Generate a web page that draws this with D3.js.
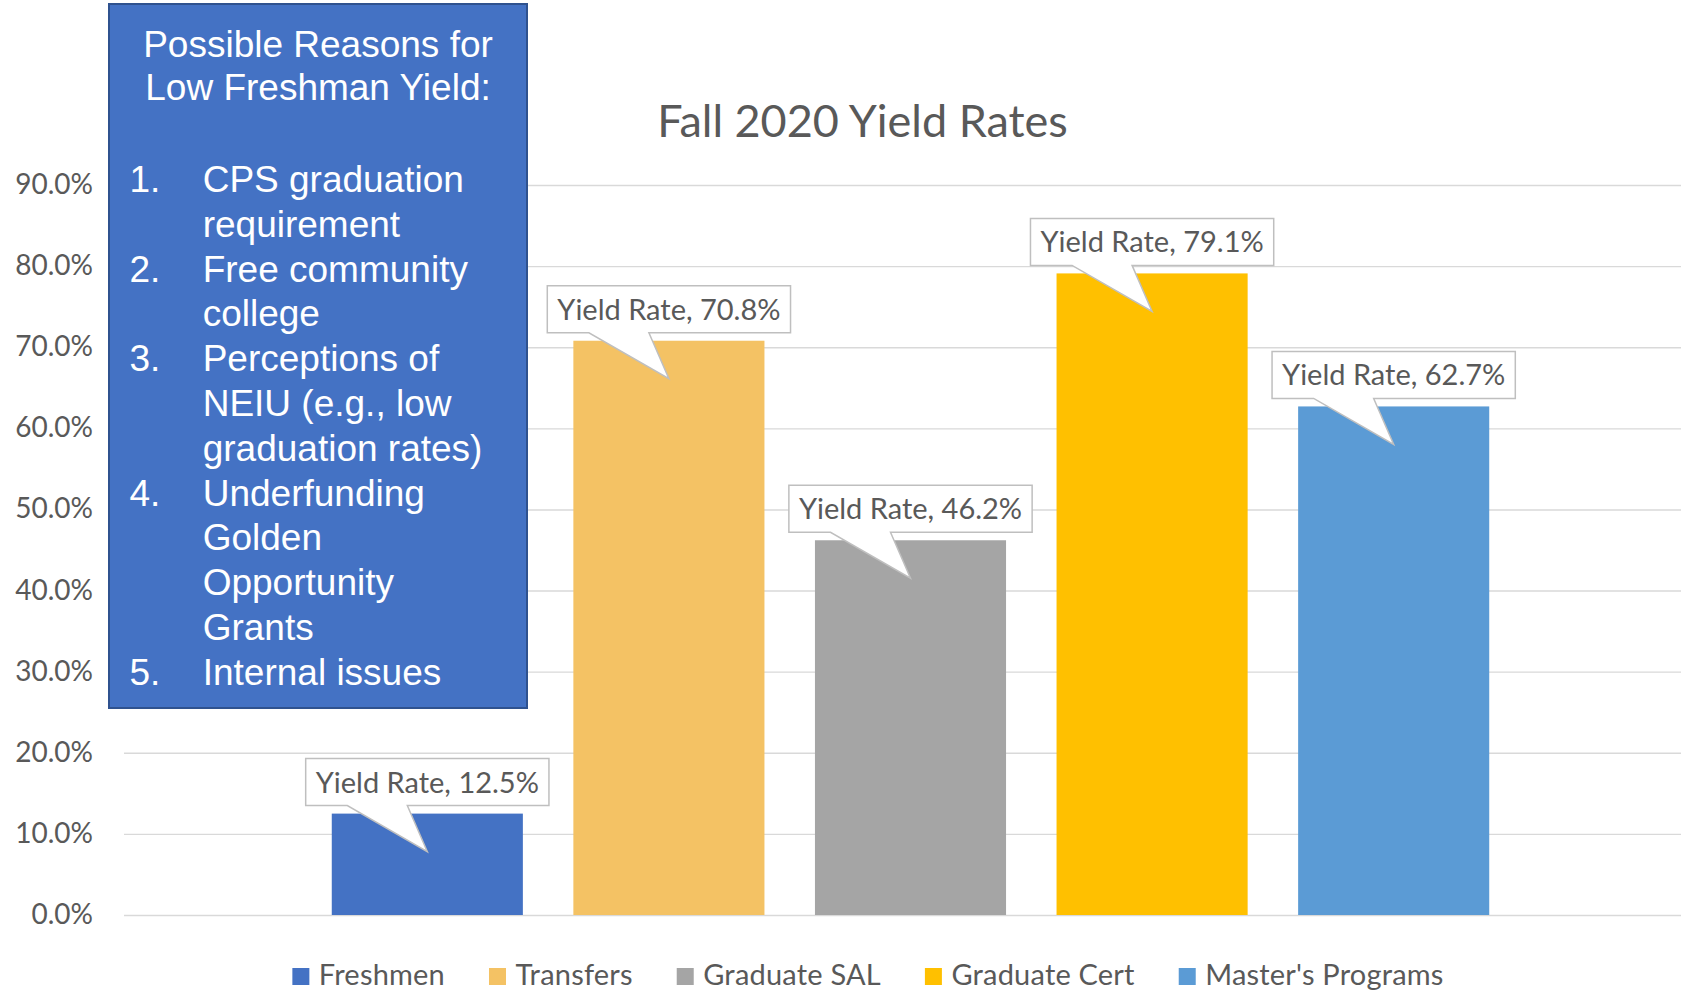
<!DOCTYPE html>
<html>
<head>
<meta charset="utf-8">
<script src="https://cdn.jsdelivr.net/npm/d3@7"></script>
<style>
  html, body { margin: 0; padding: 0; background: #ffffff; }
  svg { display: block; }
</style>
</head>
<body>
<svg id="chart" width="1681" height="993"></svg>
<script>
// ---------- DATA ----------
const chartTitle = "Fall 2020 Yield Rates";
const categories = ["Freshmen", "Transfers", "Graduate SAL", "Graduate Cert", "Master's Programs"];
const yieldRates = [0.125, 0.708, 0.462, 0.791, 0.627];
const labelPrefix = "Yield Rate";
const yTickValues = [0, 0.1, 0.2, 0.3, 0.4, 0.5, 0.6, 0.7, 0.8, 0.9];
const noteHeading = ["Possible Reasons for", "Low Freshman Yield:"];
const noteItems = [
  ["CPS graduation", "requirement"],
  ["Free community", "college"],
  ["Perceptions of", "NEIU (e.g., low", "graduation rates)"],
  ["Underfunding", "Golden", "Opportunity", "Grants"],
  ["Internal issues"]
];

// ---------- STYLE ----------
const seriesColors = ["#4472C4", "#F4C264", "#A5A5A5", "#FFC000", "#5B9BD5"];
const textGrey = "#595959";
const gridGrey = "#d9d9d9";
const calloutStroke = "#bfbfbf";
const chartFont = "Lato, 'Open Sans', sans-serif";
const noteFont = "'Liberation Sans', Arial, sans-serif";

const W = 1681, H = 993;
const svg = d3.select("#chart");

// ---------- SCALES ----------
const x = d3.scaleBand()
  .domain(categories)
  .range([124, 1697])
  .paddingInner(0.209)
  .paddingOuter(0.86);

const y = d3.scaleLinear()
  .domain([0, 0.9])
  .range([915, 185]);

// ---------- GRIDLINES ----------
const yAxis = d3.axisLeft(y)
  .tickValues(yTickValues)
  .tickSize(-(W - 124))
  .tickFormat(d3.format(".1%"));

const gAxis = svg.append("g")
  .attr("transform", "translate(124,0)")
  .call(yAxis);
gAxis.select(".domain").remove();
gAxis.selectAll(".tick line")
  .attr("stroke", gridGrey)
  .attr("stroke-width", 1.4);
gAxis.selectAll(".tick text")
  .attr("x", 93 - 124)
  .attr("dy", "8.5")
  .attr("text-anchor", "end")
  .attr("fill", textGrey)
  .style("font-family", chartFont)
  .style("font-size", "28px");

// ---------- TITLE ----------
svg.append("text")
  .attr("x", 862.5)
  .attr("y", 137)
  .attr("text-anchor", "middle")
  .attr("fill", textGrey)
  .style("font-family", chartFont)
  .style("font-size", "45px")
  .text(chartTitle);

// ---------- BARS ----------
const data = categories.map((c, i) => ({ cat: c, value: yieldRates[i], color: seriesColors[i] }));

svg.append("g")
  .selectAll("rect")
  .data(data)
  .join("rect")
  .attr("x", d => x(d.cat))
  .attr("y", d => y(d.value))
  .attr("width", x.bandwidth())
  .attr("height", d => y(0) - y(d.value))
  .attr("fill", d => d.color);

// ---------- CALLOUT LABELS ----------
const fmt = d3.format(".1%");
const callouts = svg.append("g");
data.forEach(d => {
  const cx = x(d.cat) + x.bandwidth() / 2;
  const ty = y(d.value);
  const g = callouts.append("g");
  const path = g.append("path");
  const t = g.append("text")
    .attr("fill", textGrey)
    .style("font-family", chartFont)
    .style("font-size", "29px")
    .text(`${labelPrefix}, ${fmt(d.value)}`);
  const tw = t.node().getComputedTextLength();
  const bw = tw + 20;
  const left = cx - bw / 2, right = cx + bw / 2;
  const bottom = ty - 8, top = ty - 55;
  t.attr("x", left + 10).attr("y", top + 34);
  path.attr("d",
      `M${left},${top} H${right} V${bottom} H${cx - 20} L${cx},${ty + 38} L${cx - 80},${bottom} H${left} Z`)
    .attr("fill", "#ffffff")
    .attr("stroke", calloutStroke)
    .attr("stroke-width", 1.5)
    .attr("stroke-linejoin", "miter");
});

// ---------- LEGEND ----------
const legend = svg.append("g");
const items = [];
categories.forEach((c, i) => {
  const g = legend.append("g");
  g.append("rect").attr("width", 17).attr("height", 17).attr("y", 968).attr("fill", seriesColors[i]);
  const t = g.append("text")
    .attr("y", 985)
    .attr("fill", textGrey)
    .style("font-family", chartFont)
    .style("font-size", "29px")
    .style("letter-spacing", "0.2px")
    .text(c);
  items.push({ g, t, w: t.node().getComputedTextLength() });
});
const gap = 44, swatchToText = 26.5;
const totalW = d3.sum(items, it => swatchToText + it.w) + gap * (items.length - 1);
let lx = 868 - totalW / 2;
items.forEach(it => {
  it.g.select("rect").attr("x", lx);
  it.t.attr("x", lx + swatchToText);
  lx += swatchToText + it.w + gap;
});

// ---------- NOTE BOX ----------
const note = svg.append("g");
note.append("rect")
  .attr("x", 109).attr("y", 4)
  .attr("width", 418).attr("height", 704)
  .attr("fill", "#4472C4")
  .attr("stroke", "#2F528F")
  .attr("stroke-width", 2);

noteHeading.forEach((line, i) => {
  note.append("text")
    .attr("x", 318).attr("y", 57.3 + i * 42.7)
    .attr("text-anchor", "middle")
    .attr("fill", "#ffffff")
    .style("font-family", noteFont)
    .style("font-size", "37px")
    .text(line);
});

let lineIdx = 0;
noteItems.forEach((lines, i) => {
  const baseY = 192 + lineIdx * 44.8;
  note.append("text")
    .attr("x", 129.5).attr("y", baseY)
    .attr("fill", "#ffffff")
    .style("font-family", noteFont)
    .style("font-size", "37px")
    .text(`${i + 1}.`);
  lines.forEach((ln, j) => {
    note.append("text")
      .attr("x", 202.7).attr("y", baseY + j * 44.8)
      .attr("fill", "#ffffff")
      .style("font-family", noteFont)
      .style("font-size", "37px")
      .text(ln);
  });
  lineIdx += lines.length;
});
</script>
</body>
</html>
